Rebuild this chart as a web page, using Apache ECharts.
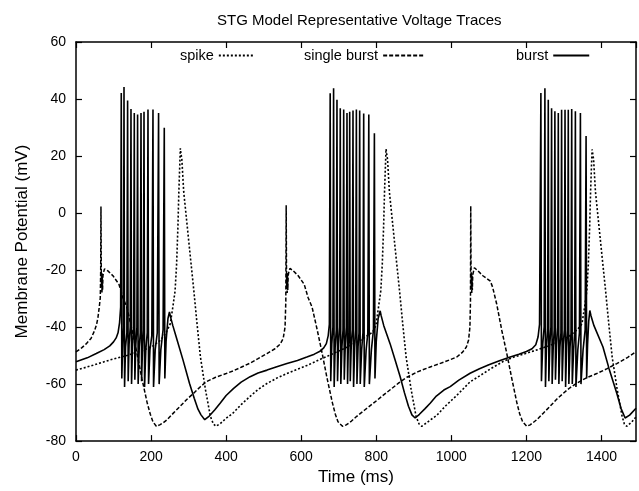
<!DOCTYPE html>
<html><head><meta charset="utf-8">
<script src="https://cdn.jsdelivr.net/npm/echarts@6/dist/echarts.min.js"></script>
<style>html,body{margin:0;padding:0;background:#fff}#chart{width:639px;height:491px}</style>
</head><body><div id="chart"></div>
<script>
const chartTitle = 'STG Model Representative Voltage Traces';
const xAxisName = 'Time (ms)';
const yAxisName = 'Membrane Potential (mV)';
const seriesNames = ['spike', 'single burst', 'burst'];
const xRange = [0, 1492];
const yRange = [-80, 60];

// [time (ms), membrane potential (mV)]
const spikeTrace = [[0,-55.1],[45,-53.4],[89,-51.6],[135,-50],[178,-48.2],[205,-46.6],[225,-44.6],[240,-42],[251,-38.9],[258,-33],[264,-27.3],[268,-18],[271.5,-5],[274,7.4],[276.5,17],[278,22.7],[279.5,21],[282,18.9],[287,7.4],[296,-4.2],[305,-15.8],[314,-27.3],[322.5,-38.9],[331.5,-50.5],[345,-62],[358,-71.3],[366,-74],[373,-74.8],[385,-73.8],[400,-72],[418,-70.2],[440,-67.2],[463,-64.4],[485,-61.9],[508.7,-59.8],[535,-57.9],[562,-56.3],[590,-54.8],[615,-53.5],[651,-51.3],[677,-49.8],[720,-47.2],[760,-44.5],[790,-41.8],[799,-39.5],[806,-33],[812,-27.3],[816,-18],[819.5,-5],[822,7.4],[824.5,17],[826,22.5],[827.5,21],[830,18.9],[835,7.4],[844,-4.2],[853,-15.8],[862,-27.3],[870.5,-38.9],[879.5,-50.5],[893,-62],[906,-71.3],[914,-74],[921,-74.8],[933,-73.7],[945,-72.5],[961,-71],[985,-67.6],[1011,-64.4],[1030,-61.9],[1050,-59.2],[1077,-57],[1105,-54.6],[1138.7,-52],[1165,-50.6],[1190,-49.6],[1228,-48],[1260,-46.6],[1290,-44.9],[1315,-43.1],[1335,-41],[1348,-38.9],[1355,-33],[1361,-27.3],[1365,-18],[1368.5,-5],[1371,7.4],[1373.5,17],[1375,22.3],[1376.5,21],[1379,18.9],[1384,7.4],[1393,-4.2],[1402,-15.8],[1411,-27.3],[1419.5,-38.9],[1428.5,-50.5],[1442,-62],[1455,-71.3],[1461,-74],[1467,-74.8],[1480,-73.4],[1492,-71.5]];

const singleBurstTrace = [[0,-48.7],[15,-47.3],[27,-45.9],[40,-44],[49.6,-41.2],[55,-39],[58.5,-36.6],[62,-33],[64.7,-29.7],[65.8,-20],[66.5,2.3],[67.2,-18],[67.8,-26],[68.5,-21],[69.2,-28],[70,-22],[70.8,-27],[71.8,-22],[73,-21],[76,-19.6],[85,-20.3],[98.5,-22],[114.5,-25],[125,-29.7],[135.5,-33],[149.5,-41.2],[162.5,-49.3],[175.5,-58],[189.5,-66.5],[198,-70.6],[205,-73.2],[214,-74.8],[223,-74.3],[232,-73.6],[242.5,-72.5],[260,-70.1],[277.5,-67.8],[295,-65.4],[313.5,-63.2],[330,-61.1],[347,-59.2],[372,-57.6],[400,-56.3],[420,-55.3],[440,-54.1],[463,-52.7],[485,-51.1],[508.7,-49.3],[530,-47.6],[544,-46],[552,-44],[557,-40],[559,-31],[560,2.7],[560.7,-18],[561.3,-26],[562,-21],[562.7,-28],[563.5,-22],[564.3,-27],[565.3,-22],[566.5,-21],[570,-19.4],[579,-20.3],[592,-22],[608,-25],[618.5,-29.7],[629,-33],[643,-41.2],[656,-49.3],[669,-58],[683,-66.5],[691,-70.6],[698,-73.2],[710,-74.8],[720,-74.3],[732,-73.2],[748,-71.3],[770,-69],[792.5,-66.7],[815,-64.3],[837,-62],[860,-59.6],[881.5,-57.6],[910,-55.7],[943.6,-54],[980,-52.3],[1014.6,-50.5],[1030,-48.8],[1040,-47],[1046,-44.5],[1049.5,-40],[1051,-31],[1051.7,2.5],[1052.4,-18],[1053,-26],[1053.7,-21],[1054.4,-28],[1055.2,-22],[1056,-27],[1057,-22],[1058.2,-21],[1061.5,-19.2],[1071,-20.3],[1084,-22],[1104,-23.9],[1110,-26],[1121,-32],[1134.5,-41.2],[1147.8,-49.3],[1161,-58],[1174.5,-66.5],[1182,-70.4],[1190,-73.2],[1201,-74.8],[1210,-74.3],[1227.7,-72.5],[1245,-70.2],[1263,-67.8],[1280,-65.4],[1298.5,-63.2],[1316,-61.3],[1334,-59.7],[1360,-57.8],[1387.5,-56.3],[1415,-54.6],[1440.8,-52.8],[1470,-50.6],[1492,-48.6]];

const burstTrace = [[0,-52.2],[30,-50.8],[54,-49.3],[75,-47.9],[90,-46.6],[100,-45.2],[107,-43.8],[112,-42],[116,-38.5],[119,-33],
[120.6,42.1],[122,-58],[124.5,-46],[126.5,-40],[127.9,44.2],[129.4,-61],[132,-47],[135.5,-42],[137.5,39.5],[139,-59],[141.5,-46],[144.5,-40],[146.5,36.5],[148,-60],[150.5,-47],[153.5,-41],[155.3,35.1],[156.8,-58.5],[159.5,-46],[162.3,-40],[164.1,34.6],[165.6,-60],[168.5,-47],[171.3,-42],[173.2,35.1],[174.7,-59],[177.5,-46],[179.5,-41],[181.2,35.5],[182.7,-61],[186,-48],[189.8,-42],[191.8,36.3],[193.3,-60],[197,-48],[202,-43],[205.1,36.3],[206.6,-61],[211,-48],[216.5,-42],[220,35.1],[221.5,-60],[226,-48],[232,-41],[235.2,29.9],[236.7,-58],
[240,-45],[245,-37],[249,-34.7],[252,-36.5],[258,-39.5],[267,-43.5],[285,-51.5],[302.5,-59.8],[315,-65],[325,-68.8],[333,-70.8],[343,-72.5],[355,-71.2],[370,-69],[384,-66.7],[400,-64],[420,-61.5],[440,-59.3],[464,-57.4],[485,-56.1],[509,-55.1],[535,-53.9],[562,-52.8],[590,-51.7],[615,-50.5],[635,-49.5],[650,-48.5],[660,-47.3],[667,-45.8],[672,-43],[675,-39],
[677.2,42],[678.7,-59],[681.5,-46],[684.5,-40],[686.3,43.8],[687.8,-61],[690.5,-47],[693.5,-41],[695.3,39.7],[696.8,-59],[699.5,-46],[702.3,-40],[704.1,36.8],[705.6,-60],[708.5,-47],[711.4,-41],[713.2,36.3],[714.7,-58.5],[717.5,-46],[720.2,-40],[722,35.1],[723.5,-60],[725.5,-47],[727.6,-42],[729.2,35.5],[730.7,-59],[733.5,-46],[736.2,-41],[738,36],[739.5,-61],[742.5,-47],[745.2,-41],[747,36.3],[748.5,-60],[751.5,-47],[754,-42],[755.8,36],[757.3,-60],[761,-48],[764.5,-42],[766.5,34.9],[768,-61],[773,-48],[777.5,-42],[780.1,34.6],[781.6,-60],[787,-48],[792.5,-41],[795,28],[796.5,-58],
[800,-45],[805,-37],[810.4,-34.3],[813,-36],[820,-39.5],[837,-45.9],[850,-51.5],[863.7,-57.4],[875,-63],[885.8,-67.8],[895,-70.8],[903.6,-71.9],[915,-70.6],[930,-68.6],[943.6,-66.7],[960,-64.2],[980,-62.1],[997,-60.9],[1020,-58.6],[1050,-56.2],[1075,-54.6],[1100,-53.2],[1130,-51.7],[1157,-50.5],[1180,-49.5],[1200,-48.6],[1215,-47.6],[1225,-46.2],[1231,-43.5],[1235,-39],
[1238.6,42.1],[1240.1,-59],[1243.5,-46],[1247.3,-40],[1249.3,43.8],[1250.8,-61],[1253.5,-47],[1256.5,-41],[1258.3,39.7],[1259.8,-59],[1262.5,-46],[1265.3,-40],[1267.1,36.8],[1268.6,-60],[1271.5,-47],[1274.1,-41],[1275.9,35.7],[1277.4,-58.5],[1280.5,-46],[1283.2,-40],[1285,35.1],[1286.5,-60],[1289.3,-47],[1292,-42],[1293.8,36.2],[1295.3,-59],[1298.3,-46],[1301.1,-41],[1302.9,36.2],[1304.4,-61],[1307.3,-47],[1309.8,-41],[1311.6,36.2],[1313.1,-60],[1316.3,-47],[1318.9,-42],[1320.7,36.5],[1322.2,-60],[1325.8,-48],[1328.5,-42],[1330.5,35.7],[1332,-61],[1337,-48],[1341.3,-42],[1343.9,35.1],[1345.4,-60],[1351,-48],[1356.5,-41],[1359,27],[1360.5,-58],
[1363,-46],[1366,-38],[1369,-34.2],[1372,-36],[1380,-39.5],[1404,-47],[1420,-54.5],[1440.8,-63.2],[1452,-68.5],[1463,-71.9],[1475,-70.9],[1492,-68.5]];

const FONT = '"Liberation Sans", Arial, Helvetica, sans-serif';
const chart = echarts.init(document.getElementById('chart'), null, {renderer: 'canvas'});

function axisBase(range, interval) {
  return {
    type: 'value', min: range[0], max: range[1], interval: interval,
    axisLine: {show: true, onZero: false, lineStyle: {color: '#000', width: 1.5}},
    axisTick: {show: true, inside: true, length: 6, lineStyle: {color: '#000', width: 1.2}},
    splitLine: {show: false},
    axisLabel: {show: false}
  };
}
const plainNumber = v => String(v);
const xMain = Object.assign(axisBase(xRange, 200), {
  position: 'bottom', name: xAxisName, nameLocation: 'middle', nameGap: 26,
  nameTextStyle: {fontSize: 17, color: '#000', fontFamily: FONT},
  axisLabel: {show: true, fontSize: 14, color: '#000', fontFamily: FONT, margin: 9, showMaxLabel: false, formatter: plainNumber}
});
const xTop = Object.assign(axisBase(xRange, 200), {position: 'top'});
const yMain = Object.assign(axisBase(yRange, 20), {
  position: 'left', name: yAxisName, nameLocation: 'middle', nameGap: 45, nameRotate: 90,
  nameTextStyle: {fontSize: 17, color: '#000', fontFamily: FONT},
  axisLabel: {show: true, fontSize: 14, color: '#000', fontFamily: FONT, margin: 10, formatter: plainNumber}
});
const yRight = Object.assign(axisBase(yRange, 20), {position: 'right'});

function legendFor(name, left, w) {
  return {
    data: [name], left: left, top: 48, align: 'right', itemWidth: w, itemHeight: 12,
    selectedMode: false, padding: 0,
    itemStyle: {opacity: 0},
    textStyle: {fontSize: 14.5, color: '#000', fontFamily: FONT}
  };
}

chart.setOption({
  animation: false,
  backgroundColor: '#fff',
  title: {text: chartTitle, left: 212, top: 8,
    textStyle: {fontSize: 15, fontWeight: 'normal', color: '#000', fontFamily: FONT}},
  legend: [legendFor(seriesNames[0], 180, 34), legendFor(seriesNames[1], 304, 40), legendFor(seriesNames[2], 516, 36)],
  grid: {left: 76, top: 42, width: 560, height: 403, containLabel: false},
  xAxis: [xMain, xTop],
  yAxis: [yMain, yRight],
  series: [
    {name: seriesNames[0], type: 'line', data: spikeTrace, symbol: 'none', xAxisIndex: 0, yAxisIndex: 0,
      lineStyle: {color: '#000', width: 1.6, type: [2, 2]}, itemStyle: {color: '#000'}},
    {name: seriesNames[1], type: 'line', data: singleBurstTrace, symbol: 'none', xAxisIndex: 0, yAxisIndex: 0,
      lineStyle: {color: '#000', width: 1.5, type: [4, 2]}, itemStyle: {color: '#000'}},
    {name: seriesNames[2], type: 'line', data: burstTrace, symbol: 'none', xAxisIndex: 0, yAxisIndex: 0,
      lineStyle: {color: '#000', width: 1.6, type: 'solid'}, itemStyle: {color: '#000'}}
  ]
});
</script></body></html>
